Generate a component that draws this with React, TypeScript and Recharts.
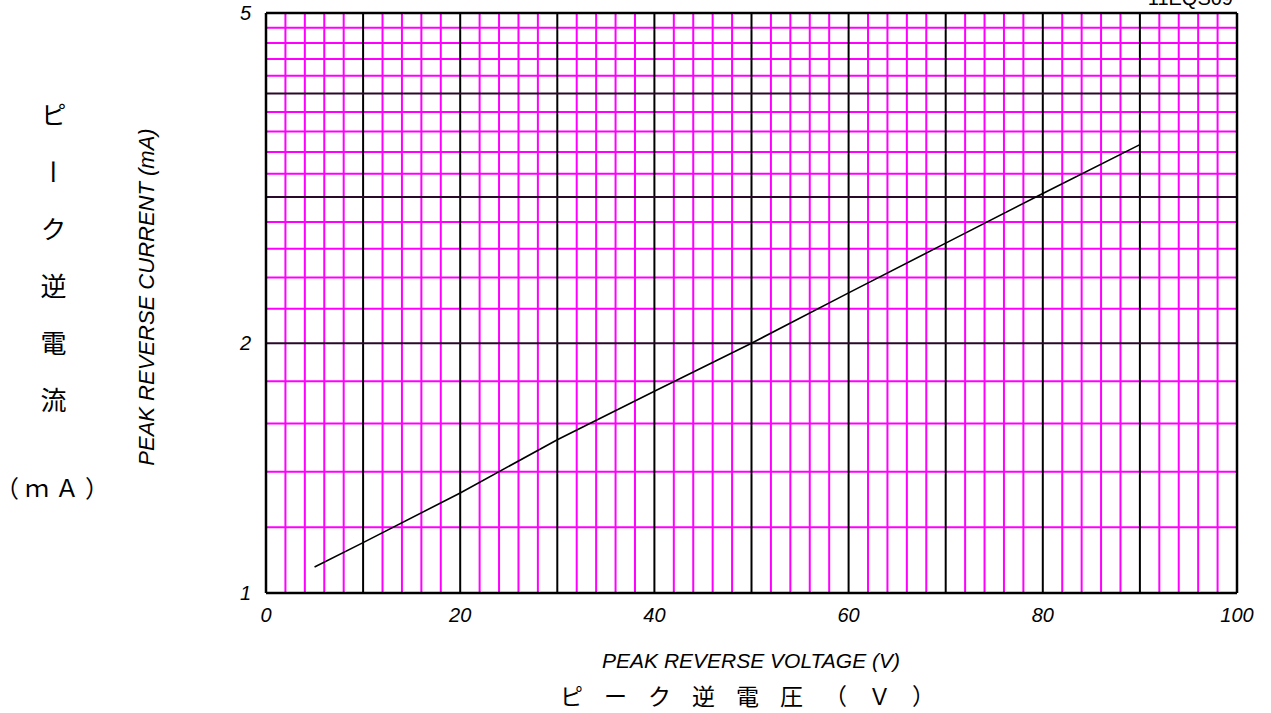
import React from "react";
import { LineChart, Line, XAxis, YAxis, ReferenceLine } from "recharts";

// Peak reverse voltage (V) vs peak reverse current (mA)
const voltage = [5, 10, 20, 30, 40, 50, 60, 70, 80, 90];
const current = [1.075, 1.15, 1.32, 1.53, 1.75, 2.0, 2.3, 2.64, 3.03, 3.47];

const xTicks = [0, 20, 40, 60, 80, 100];
const yTicks = [1, 2, 5];
const xMinor = [2, 4, 6, 8, 12, 14, 16, 18, 22, 24, 26, 28, 32, 34, 36, 38, 42, 44, 46, 48, 52, 54, 56, 58, 62, 64, 66, 68, 72, 74, 76, 78, 82, 84, 86, 88, 92, 94, 96, 98];
const xMajor = [10, 20, 30, 40, 50, 60, 70, 80, 90];
const yMinor = [1.2, 1.4, 1.6, 1.8, 2.2, 2.4, 2.6, 2.8, 3.2, 3.4, 3.6, 3.8, 4.2, 4.4, 4.6, 4.8];
const yMajor = [2, 3, 4];

const data = voltage.map((v, i) => ({ v, i: current[i] }));

const latin = "'Liberation Sans', Arial, sans-serif";
const cjk = "'Noto Sans CJK JP', sans-serif";
const MAGENTA = "#ff00ff";

function Txt({ x, y, size, children, rotate, align = "center", font = latin, italic = false, spacing = 0 }: any) {
  const tx = align === "center" ? "-50%" : align === "right" ? "-100%" : "0";
  return (
    <div
      style={{
        position: "absolute",
        left: x,
        top: y,
        fontFamily: font,
        fontSize: size,
        fontStyle: italic ? "italic" : "normal",
        lineHeight: 1,
        whiteSpace: "nowrap",
        letterSpacing: spacing,
        color: "#000",
        transform: `translate(${tx}, -50%)${rotate ? ` rotate(${rotate}deg)` : ""}`,
      }}
    >
      {children}
    </div>
  );
}

export default function App() {
  return (
    <div style={{ position: "absolute", left: 0, top: 0, width: 1271, height: 713, background: "#fff", overflow: "hidden" }}>
      <LineChart width={1271} height={713} data={data} margin={{ top: 13, right: 34, bottom: 90, left: 236 }}>
        <XAxis
          dataKey="v"
          type="number"
          domain={[0, 100]}
          ticks={xTicks}
          height={30}
          tickSize={0}
          tickMargin={15}
          axisLine={false}
          tick={{ fill: "#000", fontSize: 20, fontStyle: "italic", fontFamily: latin }}
        />
        <YAxis
          type="number"
          scale="log"
          domain={[1, 5]}
          allowDataOverflow
          ticks={yTicks}
          width={30}
          tickSize={0}
          tickMargin={15}
          axisLine={false}
          tick={{ fill: "#000", fontSize: 20, fontStyle: "italic", fontFamily: latin }}
        />
        {xMinor.map((x) => (
          <ReferenceLine key={"xm" + x} x={x} stroke={MAGENTA} strokeWidth={2} />
        ))}
        {yMinor.map((y) => (
          <ReferenceLine key={"ym" + y} y={y} stroke={MAGENTA} strokeWidth={2} />
        ))}
        {xMajor.map((x) => (
          <ReferenceLine key={"xM" + x} x={x} stroke="#000" strokeWidth={2} />
        ))}
        {yMajor.map((y) => (
          <ReferenceLine key={"yM" + y} y={y} stroke="#2a0a2a" strokeWidth={2} />
        ))}
        <ReferenceLine x={0} stroke="#000" strokeWidth={2.5} />
        <ReferenceLine x={100} stroke="#000" strokeWidth={2.5} />
        <ReferenceLine y={1} stroke="#000" strokeWidth={2.5} />
        <ReferenceLine y={5} stroke="#000" strokeWidth={2.5} />
        <Line
          type="linear"
          dataKey="i"
          stroke="#000"
          strokeWidth={1.6}
          dot={false}
          isAnimationActive={false}
        />
      </LineChart>

      <Txt x={1233} y={-2} size={20} align="right">11EQS09</Txt>
      <Txt x={147} y={297} size={22} italic rotate={-90}>PEAK REVERSE CURRENT (mA)</Txt>
      <div
        style={{
          position: "absolute",
          left: 40,
          top: 102,
          fontFamily: cjk,
          fontSize: 26,
          lineHeight: 1,
          writingMode: "vertical-rl",
          letterSpacing: 31,
          color: "#000",
        }}
      >
        ピーク逆電流
      </div>
      <Txt x={55} y={487} size={24} font={cjk} spacing={6}>（ｍＡ）</Txt>
      <Txt x={751} y={660} size={21} italic>PEAK REVERSE VOLTAGE (V)</Txt>
      <Txt x={560} y={695} size={23} align="left" font={cjk} spacing={21}>ピーク逆電圧（Ｖ）</Txt>
    </div>
  );
}
